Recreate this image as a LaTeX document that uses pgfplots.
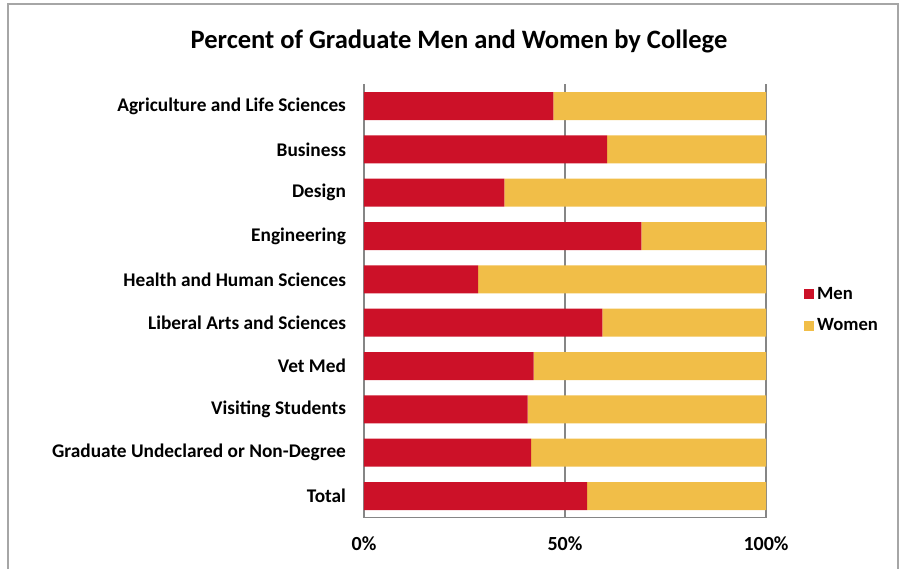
\documentclass[border=0pt]{standalone}
\usepackage{fontspec}
\setmainfont{Carlito}
\usepackage{pgfplots}
\pgfplotsset{compat=1.18}
\usepackage{pgfplotstable}

\definecolor{menred}{RGB}{204,17,40}
\definecolor{womengold}{RGB}{241,190,72}
\definecolor{gridgray}{RGB}{134,134,134}

% college, percent men, percent women
\pgfplotstableread{
idx men women
0 47.1 52.9
1 60.5 39.5
2 34.9 65.1
3 69.0 31.0
4 28.4 71.6
5 59.3 40.7
6 42.2 57.8
7 40.7 59.3
8 41.6 58.4
9 55.5 44.5
}\collegedata

\begin{document}
\begin{tikzpicture}
\useasboundingbox (-273pt,-38.5pt) rectangle (408.75pt,388.3pt);
% chart border
\draw[gray!70, line width=0.8pt] (-267pt,-38.5pt) -- (-267pt,385.3pt) -- (400.5pt,385.3pt) -- (400.5pt,-38.5pt);
\begin{axis}[
  scale only axis,
  width=301.5pt, height=325pt,
  xbar stacked,
  bar width=21pt,
  xmin=0, xmax=100,
  ymin=-0.5, ymax=9.5,
  y dir=reverse,
  ytick=data,
  yticklabels={Agriculture and Life Sciences, Business, Design, Engineering, Health and Human Sciences, Liberal Arts and Sciences, Vet Med, Visiting Students, Graduate Undeclared or Non-Degree, Total},
  xtick={0,50,100},
  xticklabels={0\%,50\%,100\%},
  xmajorgrids,
  grid style={gridgray, line width=0.8pt},
  axis x line*=bottom,
  axis y line*=left,
  axis line style={gridgray, line width=0.8pt},
  major tick length=0pt,
  yticklabel style={font=\bfseries\fontsize{14.5}{17}\selectfont, xshift=-10pt},
  xticklabel style={font=\bfseries\fontsize{15}{18}\selectfont, yshift=-11pt},
  legend style={at={(1.085,0.479)}, anchor=west, draw=none, fill=none,
    font=\bfseries\fontsize{14}{16}\selectfont, row sep=9pt},
  legend cell align=left,
  legend image code/.code={\fill[#1] (0pt,-3.7pt) rectangle (7.5pt,3.8pt);},
]
\addplot[fill=menred, draw=none] table[x=men, y=idx] {\collegedata};
\addplot[fill=womengold, draw=none] table[x=women, y=idx] {\collegedata};
\legend{Men, Women}
\end{axis}
\node[font=\bfseries\fontsize{19.9}{23}\selectfont] at (71.25pt,357pt) {Percent of Graduate Men and Women by College};
\end{tikzpicture}
\end{document}
